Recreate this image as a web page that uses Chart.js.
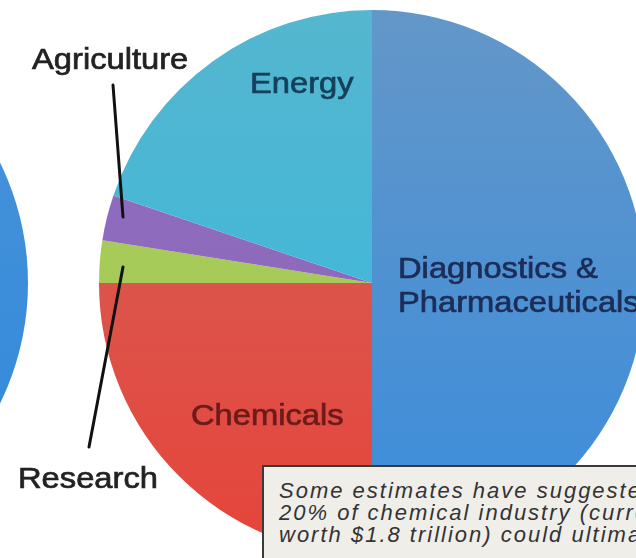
<!DOCTYPE html>
<html>
<head>
<meta charset="utf-8">
<script src="https://cdn.jsdelivr.net/npm/chart.js@4"></script>
<style>
  html, body { margin: 0; padding: 0; background: #fff; overflow: hidden; width: 636px; height: 558px; }
  #wrap { position: relative; width: 636px; height: 558px; overflow: hidden; }
  #otherPie {
    position: absolute; left: -518px; top: 10px; width: 546px; height: 546px; border-radius: 50%;
    background: linear-gradient(180deg, #4a93d6 0%, #3a8ddb 60%, #2f86d8 100%);
  }
  #pie { position: absolute; left: 0; top: 0; }
  #note {
    position: absolute; left: 262px; top: 465px; width: 420px; height: 120px;
    background: #efeee9; border: 2px solid #3a3a3a; box-sizing: border-box;
    padding: 13px 0 0 15px;
    font: italic 22px "Liberation Sans", Arial, sans-serif; letter-spacing: 2px;
    line-height: 22px; color: #333; white-space: nowrap;
  }
</style>
</head>
<body>
<div id="wrap">
  <div id="otherPie"></div>
  <canvas id="pie" width="646" height="558"></canvas>
  <div id="note">Some estimates have suggested that<br>20% of chemical industry (currently<br>worth $1.8 trillion) could ultimately</div>
</div>
<script>
const categories = ['Diagnostics & Pharmaceuticals', 'Chemicals', 'Research', 'Agriculture', 'Energy'];
const shares = [50, 25, 2.5, 2.7, 19.8];
// top / bottom colour of each slice's gradient
const topColors = ['#6397c8', '#d2645c', '#aacb5c', '#9270bd', '#55b6cf'];
const bottomColors = ['#3a8cdc', '#e6443a', '#a3c955', '#8a63bd', '#34b9df'];

// labels drawn on the slices and outside with leader lines
const sliceLabels = [
  { text: 'Diagnostics &', x: 398, y: 278, color: '#1c2d58' },
  { text: 'Pharmaceuticals', x: 398, y: 312, color: '#1c2d58' },
  { text: 'Chemicals', x: 191, y: 425, color: '#6e1a1a' },
  { text: 'Energy', x: 250, y: 93, color: '#16405a' },
  { text: 'Agriculture', x: 32, y: 69, color: '#222' },
  { text: 'Research', x: 18, y: 488, color: '#222' }
];
const leaders = [
  [113, 85, 123, 217],
  [123, 267, 89, 447]
];

function sliceFill(ctx) {
  const area = ctx.chart.chartArea;
  const i = ctx.dataIndex;
  if (!area) return topColors[i];
  const g = ctx.chart.ctx.createLinearGradient(0, area.top, 0, area.bottom);
  g.addColorStop(0, topColors[i]);
  g.addColorStop(1, bottomColors[i]);
  return g;
}

const labelPlugin = {
  id: 'sliceLabels',
  afterDraw(chart) {
    const c = chart.ctx;
    c.save();
    c.strokeStyle = '#111';
    c.lineWidth = 3;
    c.lineCap = 'round';
    leaders.forEach(l => {
      c.beginPath();
      c.moveTo(l[0], l[1]);
      c.lineTo(l[2], l[3]);
      c.stroke();
    });
    c.font = '30px "Liberation Sans", Arial, sans-serif';
    c.textBaseline = 'alphabetic';
    c.lineWidth = 0.7;
    sliceLabels.forEach(l => {
      c.save();
      c.translate(l.x, l.y);
      c.scale(1.09, 1);
      c.fillStyle = l.color;
      c.strokeStyle = l.color;
      c.fillText(l.text, 0, 0);
      c.strokeText(l.text, 0, 0);
      c.restore();
    });
    c.restore();
  }
};

new Chart(document.getElementById('pie'), {
  type: 'pie',
  data: {
    labels: categories,
    datasets: [{
      data: shares,
      backgroundColor: sliceFill,
      borderWidth: 0,
      hoverOffset: 0
    }]
  },
  options: {
    responsive: false,
    animation: false,
    layout: { padding: { left: 99, top: 10, right: 1, bottom: 2 } },
    plugins: { legend: { display: false }, tooltip: { enabled: false } }
  },
  plugins: [labelPlugin]
});
</script>
</body>
</html>
